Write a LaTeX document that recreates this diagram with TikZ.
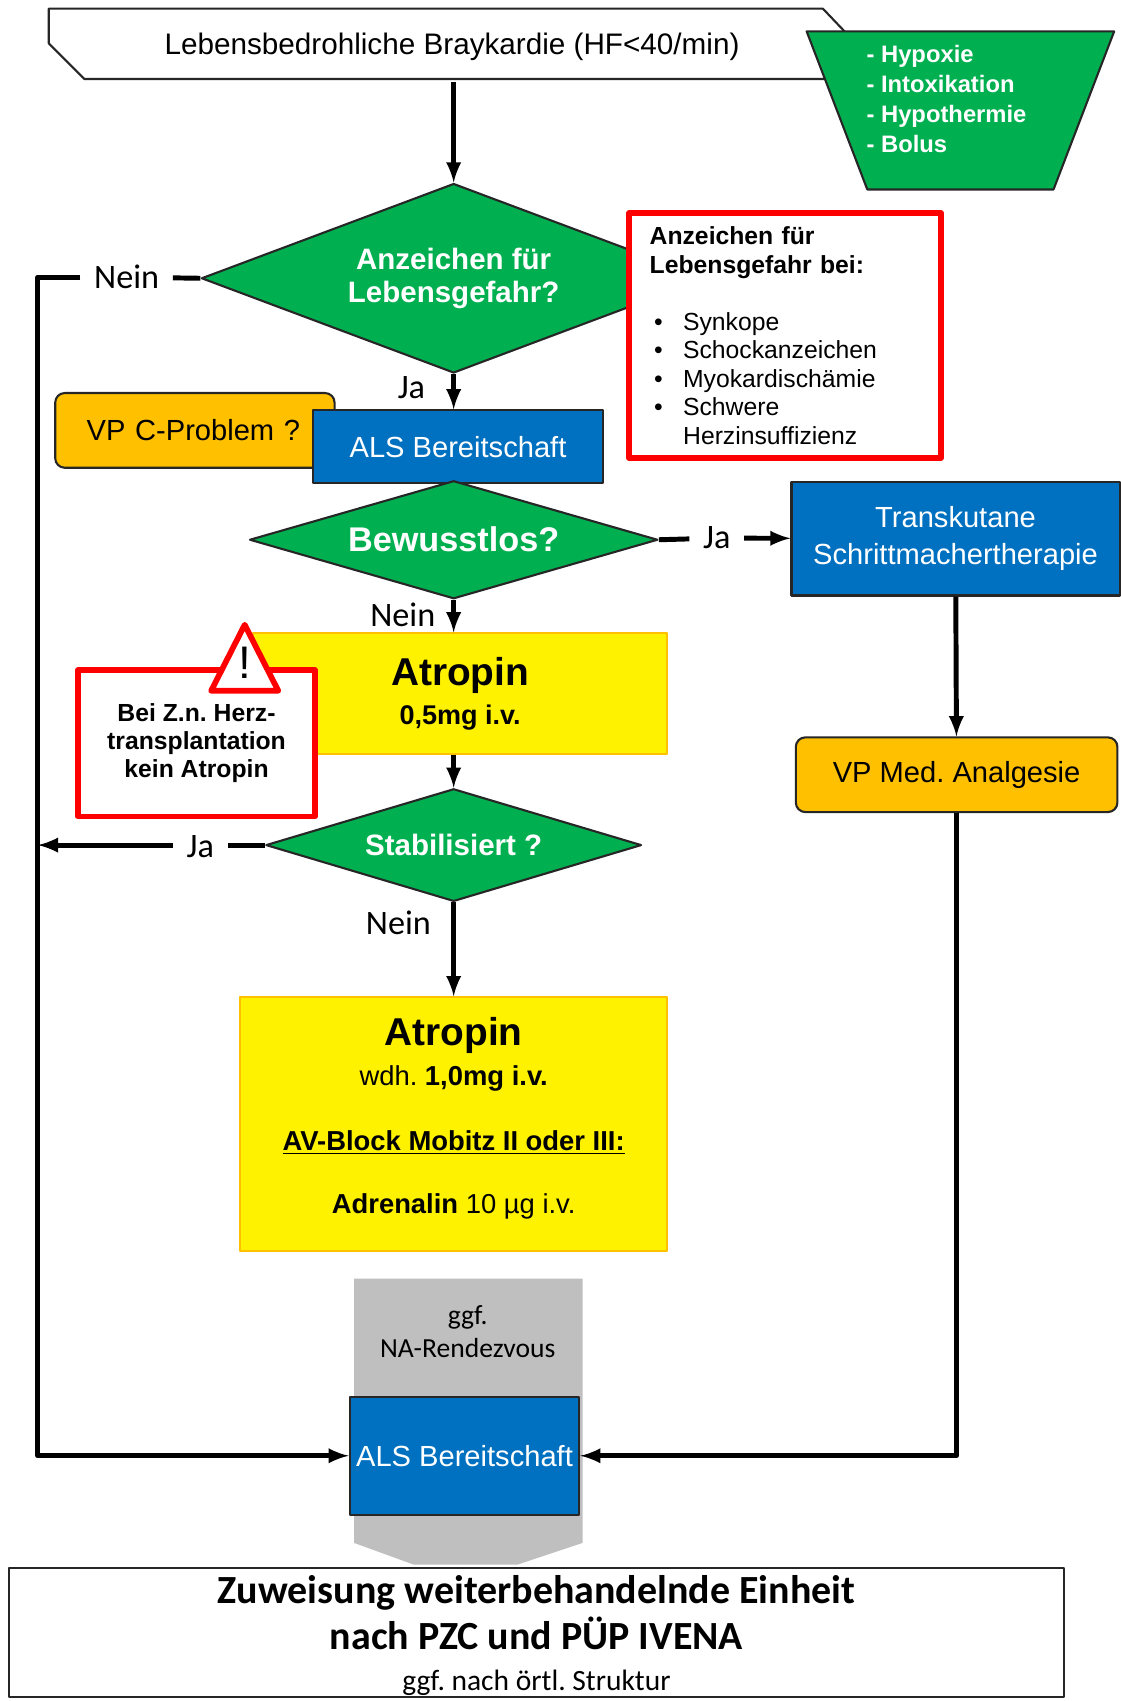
\documentclass[tikz,border=0pt]{standalone}
\usepackage{fontspec}
\setmainfont{Liberation Sans}
\newfontfamily\calib{Carlito}
\usetikzlibrary{shapes.geometric}
\definecolor{gruen}{HTML}{00B050}
\definecolor{blau}{HTML}{0070C0}
\definecolor{orang}{HTML}{FFC000}
\definecolor{grau}{HTML}{BFBFBF}
\newcommand{\fs}[2]{\fontsize{#1}{#2}\selectfont}
\newcommand{\pkt}{\makebox[17.6pt][l]{\hspace{2.3pt}\textbullet}}
\frenchspacing

\begin{document}
\begin{tikzpicture}[x=.2mm, y=-.2mm, line join=round, >=latex,
    rand/.style={draw=black!85, line width=1.1pt},
    blaubox/.style={rand, fill=blau, text=white, align=center, inner sep=0pt, font=\fs{15.3}{19.3}},
    vpbox/.style={rand, fill=orang, rounded corners=5pt, font=\fs{15.3}{18}},
    gelbbox/.style={draw=orang, line width=1.1pt, fill=yellow, align=center, inner sep=0pt},
    raute/.style={diamond, rand, fill=gruen, text=white, align=center, inner sep=0pt},
    rotbox/.style={draw=red, line width=3pt, fill=white},
    linie/.style={line width=2.6pt},
    pfeil/.style={linie, ->},
    lbl/.style={inner xsep=7pt, inner ysep=1pt, font=\calib\fs{18}{20}}]
\useasboundingbox (0,0) rectangle (1035,1571);
% Kopf
\path (45,8) coordinate (B1) (760,8) coordinate (B2) (800,50) coordinate (B3)
      (800,73) coordinate (B4) (78,73) coordinate (B5) (45,40) coordinate (B6);
\draw[rand, fill=white] (B1)--(B2)--(B3)--(B4)--(B5)--(B6)--cycle;
\node[minimum width=14.9cm, minimum height=1.3cm, font=\fs{15.6}{18}] (title) at (417.5,43) {Lebensbedrohliche Braykardie (HF<40/min)};
\draw[rand, fill=gruen] (745,29)--(1029,29)--(973,175)--(801,175)--cycle;
\node[anchor=west, align=left, text=white, inner sep=0pt, font=\bfseries\fs{12.5}{15.7}] (hyp) at (800,91.5)
    {- Hypoxie\\- Intoxikation\\- Hypothermie\\- Bolus};
% Rauten und Kaesten
\node[raute, aspect=2.66, minimum width=9.32cm, minimum height=3.5cm, font=\bfseries\fs{15.5}{17}] (d1) at (419,257) {Anzeichen für\\Lebensgefahr?};
\node[rotbox, minimum width=5.76cm, minimum height=4.52cm, text width=5cm, inner xsep=.38cm, align=left, font=\fs{13}{15}] (gefahr) at (725,310)
    {\textbf{Anzeichen für}\\\textbf{Lebensgefahr bei:}\\[15pt]
     \pkt Synkope\\\pkt Schockanzeichen\\\pkt Myokardischämie\\\pkt Schwere\\\hspace*{17.6pt}Herzinsuffizienz};
\node[vpbox, minimum width=5.16cm, minimum height=1.38cm, text width=4cm, inner xsep=.58cm, align=left] (vpc) at (180,397.5) {VP C-Problem ?};
\node[blaubox, minimum width=5.36cm, minimum height=1.34cm] (als1) at (423,412.5) {ALS Bereitschaft};
\node[raute, aspect=3.46, minimum width=7.54cm, minimum height=2.18cm, font=\bfseries\fs{18}{20}] (d2) at (419,498.5) {Bewusstlos?};
\node[blaubox, minimum width=6.06cm, minimum height=2.1cm] (tsm) at (882.5,497.5) {Transkutane\\Schrittmachertherapie};
\node[vpbox, minimum width=5.94cm, minimum height=1.38cm] (vpm) at (883.5,715.5) {VP Med. Analgesie};
\node[gelbbox, minimum width=7.64cm, minimum height=2.22cm, font=\bfseries\fs{14.2}{20.5}] (atr1) at (425,640.5)
    {\fs{20.4}{22}Atropin\\0,5mg i.v.};
\node[rotbox, minimum width=4.38cm, minimum height=2.7cm, align=center, font=\bfseries\fs{13}{14.7}] (warn) at (181.5,686.5)
    {Bei Z.n. Herz-\\transplantation\\kein Atropin};
\path (226,577) coordinate (T1) (257,638) coordinate (T2) (195,638) coordinate (T3);
\draw[rotbox] (T1)--(T2)--(T3)--cycle;
\node[font=\fs{24}{24}] (ausruf) at (226,612) {!};
\node[raute, aspect=3.34, minimum width=6.94cm, minimum height=2.08cm, font=\bfseries\fs{15.5}{17}] (d3) at (419,780.5) {Stabilisiert ?};
\node[gelbbox, minimum width=7.88cm, minimum height=4.68cm, font=\fs{14.4}{21}] (atr2) at (419,1038)
    {\bfseries\fs{20.4}{21}Atropin\\
     wdh. \textbf{1,0mg i.v.}\\[13pt]
     \textbf{\underline{AV-Block Mobitz II oder III:}}\\[12pt]
     \textbf{Adrenalin} 10 µg i.v.\\[-12pt]\mbox{}};
% NA-Rendezvous und Zuweisung
\fill[grau] (327,1181)--(538,1181)--(538,1425)--(478,1445)--(382,1445)--(327,1425)--cycle;
\node[align=center, font=\calib\fs{14.5}{17}] (rdv) at (432,1230) {ggf.\\NA-Rendezvous};
\node[blaubox, minimum width=4.24cm, minimum height=2.18cm] (als2) at (429,1344.5) {ALS Bereitschaft};
\node[rand, fill=white, minimum width=19.5cm, minimum height=2.38cm, inner ysep=0pt, align=center, font=\calib\bfseries\fs{21}{24}] (zuw) at (495.5,1507.5)
    {\rule{0pt}{18pt}Zuweisung weiterbehandelnde Einheit\\
     nach PZC und PÜP IVENA\\[-2.5pt]
     \mdseries\fs{15.5}{19}ggf. nach örtl. Struktur};
% Ja / Nein
\foreach \n/\t/\p in {nein1/Nein/{117,256}, ja1/Ja/{380,358}, ja2/Ja/{662,497},
                      nein2/Nein/{372,568}, ja3/Ja/{185,782}, nein3/Nein/{368,852}}
    \node[lbl] (\n) at (\p) {\t};
% Verbindungen
\path (35,1344.5) coordinate (lu);
\draw[pfeil] (title.south -| d1) -- (d1.north);
\draw[pfeil] (d1.south) -- (d1.south |- als1.north);
\draw[linie] (d1.west) -- (nein1);
\draw[pfeil] (nein1) -| (lu) -- (als2);
\draw[pfeil] (d2.south) -- (d2.south |- atr1.north);
\draw[linie] (d2.east) -- (ja2);
\draw[pfeil] (ja2) -- (tsm);
\draw[pfeil] (tsm) -- (vpm);
\draw[pfeil] (vpm) |- (als2);
\draw[pfeil] (atr1.south -| d3) -- (d3.north);
\draw[linie] (d3.west) -- (d3.west -| ja3.east);
\draw[pfeil] (ja3.west |- d3) -- (lu |- d3);
\draw[pfeil] (d3.south) -- (d3.south |- atr2.north);
\end{tikzpicture}
\end{document}
